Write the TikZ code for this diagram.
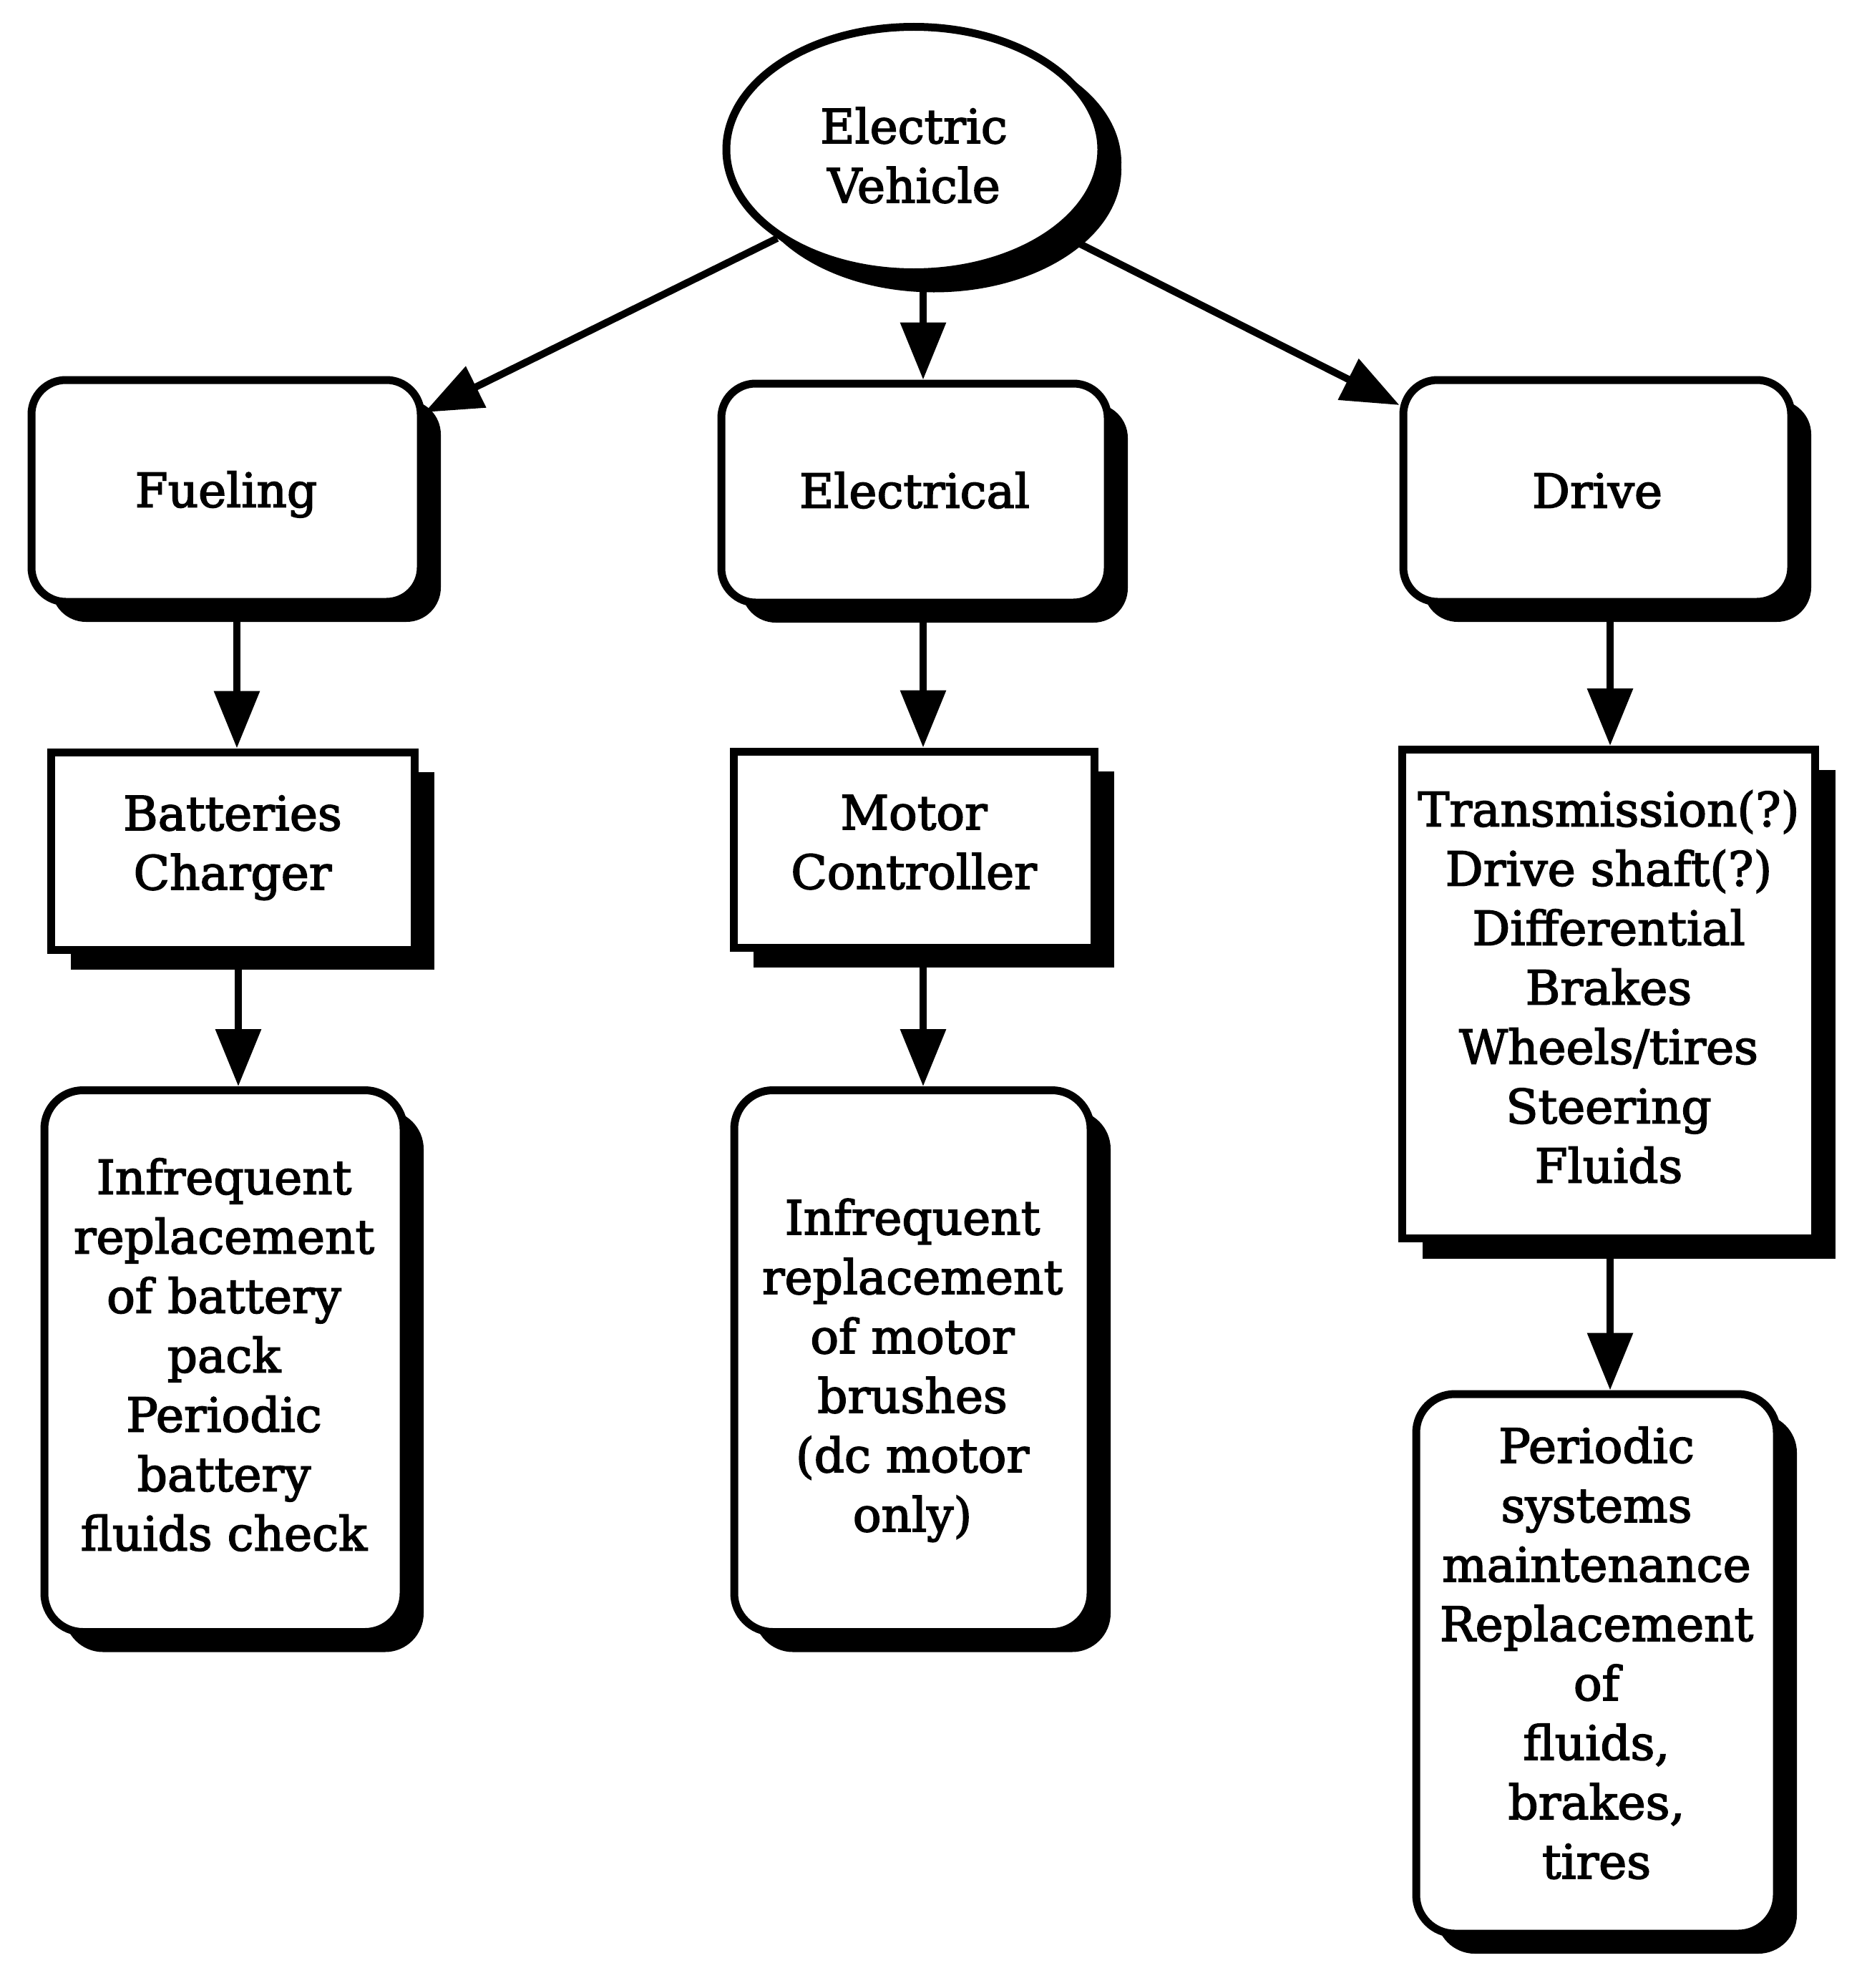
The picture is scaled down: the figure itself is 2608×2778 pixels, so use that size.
\documentclass[tikz,border=0pt]{standalone}
\usepackage{fontspec}
\setmainfont{DejaVu Serif}[FakeBold=2.5]
\usetikzlibrary{shapes.geometric,arrows.meta,shadows}
\newcommand{\lft}[2]{\raisebox{#1}[\height][\depth]{\begin{tabular}{@{}c@{}}#2\end{tabular}}}
\begin{document}
\begin{tikzpicture}[x=0.5pt,y=-0.5pt,
  box/.style={draw, line width=5.5pt, fill=white, align=center, inner sep=0pt,
    font=\fontsize{33}{41.5}\selectfont,
    drop shadow={shadow xshift=14pt, shadow yshift=-14pt, fill=black, opacity=1}},
  rbox/.style={box, rounded corners=24pt},
  dbox/.style={box, rounded corners=27pt},
  sbox/.style={box},
  evbox/.style={box, ellipse, drop shadow={shadow xshift=14pt, shadow yshift=-9pt, fill=black, opacity=1}},
  arr/.style={line width=5pt, -{Triangle[length=40pt,width=31pt]}}]
\useasboundingbox (0,0) rectangle (2608,2778);
\fill[white] (0,0) rectangle (2608,2778);

\node[evbox, minimum width=262pt, minimum height=171.5pt] (ev) at (1277,209) {\lft{-8pt}{Electric\\Vehicle}};

\node[rbox, minimum width=272pt, minimum height=155pt] (fuel) at (316,686) {\lft{-3pt}{Fueling}};
\node[rbox, minimum width=270pt, minimum height=153pt] (elec) at (1278,689) {\lft{-2pt}{Electrical}};
\node[rbox, minimum width=271pt, minimum height=155pt] (drive) at (2232,686) {\lft{-3.5pt}{Drive}};

\node[sbox, minimum width=254pt, minimum height=138pt] (batt) at (325,1189) {\lft{2pt}{Batteries\\Charger}};
\node[sbox, minimum width=252pt, minimum height=137pt] (motor) at (1277,1187) {\lft{1.5pt}{Motor\\Controller}};
\node[sbox, minimum width=288.5pt, minimum height=341.5pt] (list) at (2248,1389)
  {\lft{1pt}{Transmission(?)\\Drive shaft(?)\\Differential\\Brakes\\Wheels/tires\\Steering\\Fluids}};

\node[dbox, minimum width=251pt, minimum height=378.5pt] (fdet) at (313,1902)
  {\lft{0.5pt}{Infrequent\\replacement\\of battery\\pack\\Periodic\\battery\\fluids check}};
\node[dbox, minimum width=249pt, minimum height=378.5pt] (edet) at (1275,1902)
  {\lft{-7pt}{Infrequent\\replacement\\of motor\\brushes\\(dc motor\\only)}};
\node[dbox, minimum width=252pt, minimum height=377pt] (ddet) at (2231,2325)
  {\lft{3.6pt}{Periodic\\systems\\maintenance\\Replacement\\of\\fluids,\\brakes,\\tires}};

\draw[arr] (ev.213) -- ([yshift=55pt]fuel.east);
\draw[arr] (ev.-30) -- ([yshift=60pt]drive.west);

\coordinate (a1) at ([xshift=6.5pt]ev.south);
\draw[arr] (a1) -- (a1 |- elec.north);
\coordinate (a2) at ([xshift=7.5pt]fuel.south);
\draw[arr] (a2) -- (a2 |- batt.north);
\coordinate (a3) at ([xshift=6pt]elec.south);
\draw[arr] (a3) -- (a3 |- motor.north);
\coordinate (a4) at ([xshift=9pt]drive.south);
\draw[arr] (a4) -- (a4 |- list.north);
\coordinate (a5) at ([xshift=4pt]batt.south);
\draw[arr] (a5) -- (a5 |- fdet.north);
\coordinate (a6) at ([xshift=6.5pt]motor.south);
\draw[arr] (a6) -- (a6 |- edet.north);
\coordinate (a7) at ([xshift=1pt]list.south);
\draw[arr] (a7) -- (a7 |- ddet.north);
\end{tikzpicture}
\end{document}
